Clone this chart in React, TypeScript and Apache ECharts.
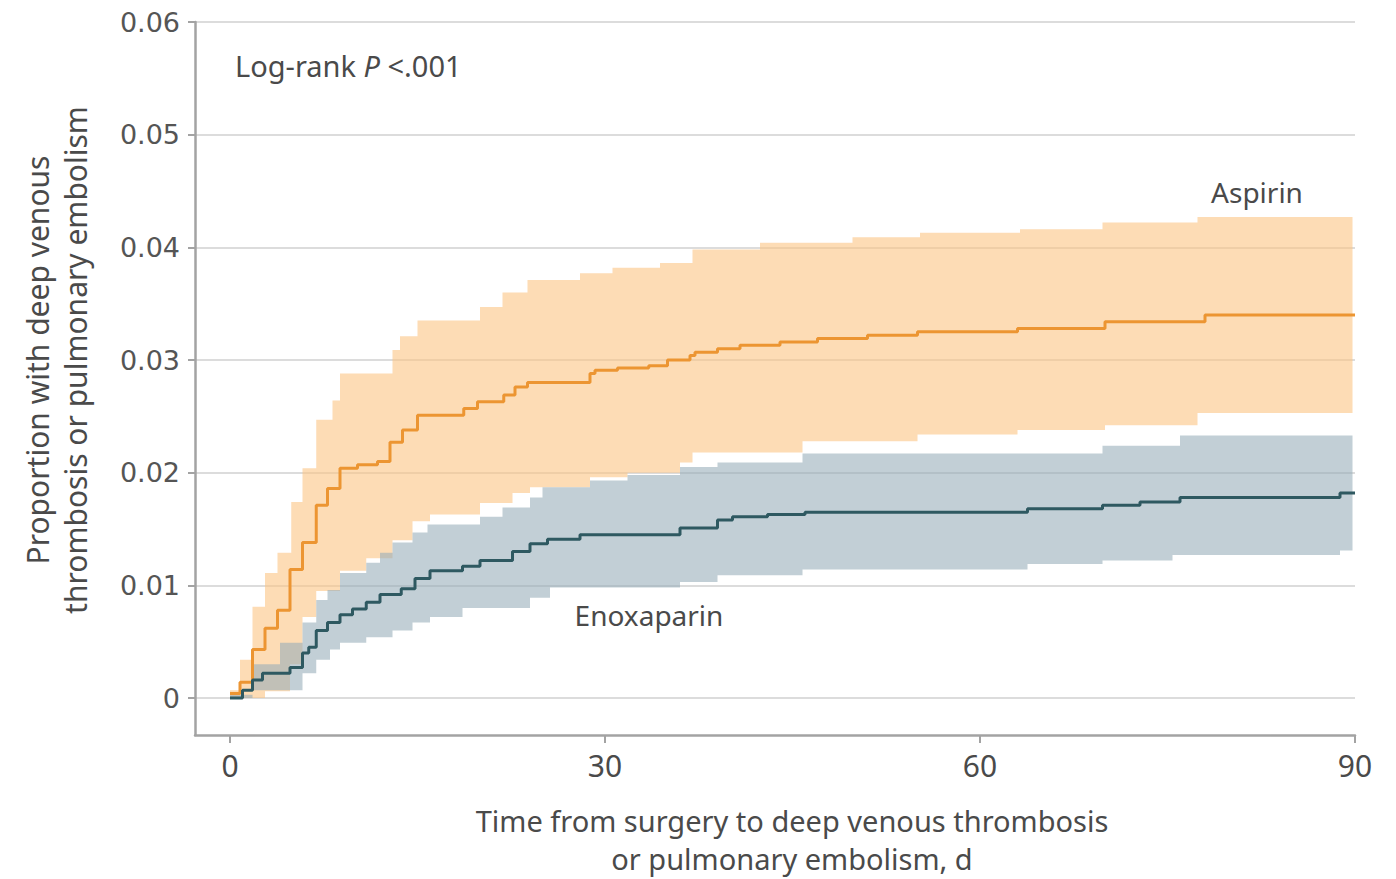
import React, { useEffect, useRef } from "react";
import * as echarts from "echarts";

// Axis ticks
const xTicks = [0, 30, 60, 90];
const yTicks = [0, 0.01, 0.02, 0.03, 0.04, 0.05, 0.06];

// Aspirin cumulative incidence (step points: day, proportion)
const aspirinDays = [0, 0.8, 1.8, 2.8, 3.8, 4.8, 5.8, 6.9, 7.8, 8.8, 10.2, 11.8, 12.8, 13.8, 15.0, 18.7, 19.8, 21.9, 22.8, 23.8, 28.8, 29.2, 31, 33.5, 35, 36.8, 37.2, 39, 40.8, 44, 47, 51, 55, 63, 70, 78, 90];
const aspirinValues = [0.0004, 0.0014, 0.0043, 0.0062, 0.0078, 0.0114, 0.0138, 0.0171, 0.0186, 0.0204, 0.0207, 0.021, 0.0227, 0.0238, 0.0251, 0.0257, 0.0263, 0.0269, 0.0276, 0.028, 0.0288, 0.0291, 0.0293, 0.0295, 0.03, 0.0304, 0.0307, 0.031, 0.0313, 0.0316, 0.0319, 0.0322, 0.0325, 0.0328, 0.0334, 0.034, 0.034];

// Aspirin 95% CI
const aspirinUpperDays = [0, 0.8, 1.8, 2.8, 3.8, 4.9, 5.8, 6.9, 8.2, 8.8, 13, 13.6, 15, 20, 21.8, 23.8, 28, 30.6, 34.4, 37, 42.4, 49.8, 55.2, 63.2, 69.8, 77.4];
const aspirinUpperValues = [0.0007, 0.0034, 0.0081, 0.0111, 0.0129, 0.0174, 0.0204, 0.0247, 0.0264, 0.0288, 0.0309, 0.0321, 0.0335, 0.0347, 0.036, 0.0371, 0.0377, 0.0382, 0.0386, 0.0398, 0.0404, 0.0409, 0.0413, 0.0416, 0.0422, 0.0427];
const aspirinLowerDays = [0, 2.8, 4.8, 5.8, 6.9, 8.8, 10.9, 13, 14.6, 16, 20, 22.6, 24, 28.8, 31.8, 36, 37, 45.8, 55, 63, 70, 77.4];
const aspirinLowerValues = [0, 0.0006, 0.003, 0.0072, 0.0095, 0.0113, 0.0124, 0.014, 0.0157, 0.0163, 0.0173, 0.0182, 0.0187, 0.0196, 0.02, 0.0209, 0.0218, 0.0228, 0.0234, 0.0238, 0.0242, 0.0253];

// Enoxaparin cumulative incidence
const enoxDays = [0, 1.0, 1.8, 2.6, 4.8, 5.8, 6.3, 6.9, 7.8, 8.8, 9.8, 10.9, 12, 13.7, 14.8, 16, 18.6, 20, 22.6, 24, 25.4, 28, 36, 39, 40.2, 43, 46, 63.8, 69.8, 72.8, 76, 88.8, 90];
const enoxValues = [0, 0.0007, 0.0016, 0.0022, 0.0027, 0.004, 0.0045, 0.006, 0.0067, 0.0074, 0.0079, 0.0085, 0.0092, 0.0097, 0.0106, 0.0113, 0.0117, 0.0122, 0.013, 0.0137, 0.0141, 0.0145, 0.0151, 0.0158, 0.0161, 0.0163, 0.0165, 0.0168, 0.0171, 0.0174, 0.0178, 0.0182, 0.0182];

// Enoxaparin 95% CI
const enoxUpperDays = [0, 1.8, 4, 5.8, 6.9, 7.8, 8.8, 10.9, 12, 13, 14.6, 15.8, 20, 21.8, 24, 25, 28.8, 31.8, 36, 39, 45.8, 69.8, 76];
const enoxUpperValues = [0.0003, 0.003, 0.0049, 0.0067, 0.0087, 0.0096, 0.0111, 0.012, 0.0129, 0.0138, 0.0147, 0.0154, 0.0161, 0.0169, 0.0178, 0.0187, 0.0193, 0.0198, 0.0205, 0.0209, 0.0217, 0.0224, 0.0233];
const enoxLowerDays = [0, 1.8, 5.8, 6.9, 8, 8.8, 10.9, 13, 14.6, 16, 18.6, 24, 25.6, 36, 39, 45.8, 63.8, 69.8, 75.4, 88.8];
const enoxLowerValues = [0, 0.0007, 0.0022, 0.0034, 0.0043, 0.0049, 0.0054, 0.006, 0.0067, 0.0072, 0.008, 0.0089, 0.0098, 0.0103, 0.0109, 0.0114, 0.0119, 0.0122, 0.0127, 0.0131];

const BAND_END = 89.8;
const FONT = "'Noto Sans', sans-serif";
const TEXT_COLOR = "#4a4a4a";
const AXIS_COLOR = "#a3a3a3";

function bandSeries(name: string, upD: number[], upV: number[], loD: number[], loV: number[], fill: string) {
  return {
    type: "custom",
    name,
    data: [[0, 0]],
    encode: { x: 0, y: 1 },
    silent: true,
    clip: true,
    renderItem: (_params: any, api: any) => {
      const pts: number[][] = [];
      for (let i = 0; i < upD.length; i++) {
        const x1 = i < upD.length - 1 ? upD[i + 1] : BAND_END;
        pts.push(api.coord([upD[i], upV[i]]), api.coord([x1, upV[i]]));
      }
      for (let i = loD.length - 1; i >= 0; i--) {
        const x1 = i < loD.length - 1 ? loD[i + 1] : BAND_END;
        pts.push(api.coord([x1, loV[i]]), api.coord([loD[i], loV[i]]));
      }
      return { type: "polygon", shape: { points: pts }, style: { fill } };
    },
  };
}

export default function App() {
  const ref = useRef<HTMLDivElement>(null);
  useEffect(() => {
    if (!ref.current) return;
    const chart = echarts.init(ref.current, null, { renderer: "svg" });
    chart.setOption({
      animation: false,
      backgroundColor: "#ffffff",
      grid: { left: 195, right: 41, top: 22, bottom: 144, containLabel: false, outerBoundsMode: "none" },
      xAxis: {
        type: "value",
        min: -2.8,
        max: 90,
        axisLine: { show: true, onZero: false, lineStyle: { color: AXIS_COLOR, width: 2.5 } },
        axisTick: { show: true, customValues: xTicks, length: 8, lineStyle: { color: AXIS_COLOR, width: 2 } },
        axisLabel: { customValues: xTicks, fontSize: 30, color: TEXT_COLOR, margin: 15, fontFamily: FONT },
        splitLine: { show: false },
      },
      yAxis: {
        type: "value",
        min: -0.00328,
        max: 0.06,
        axisLine: { show: true, onZero: false, lineStyle: { color: AXIS_COLOR, width: 2.5 } },
        axisTick: { show: true, customValues: yTicks, length: 7, lineStyle: { color: AXIS_COLOR, width: 2 } },
        axisLabel: {
          customValues: yTicks,
          fontSize: 27,
          color: "#555555",
          margin: 15,
          fontFamily: "'DejaVu Sans', sans-serif",
          formatter: (v: number) => (v === 0 ? "0" : v.toFixed(2)),
        },
        splitLine: { show: true, lineStyle: { color: "#dcdcdc", width: 2 } },
      },
      series: [
        bandSeries("Aspirin 95% CI", aspirinUpperDays, aspirinUpperValues, aspirinLowerDays, aspirinLowerValues, "rgba(252,196,132,0.6)"),
        bandSeries("Enoxaparin 95% CI", enoxUpperDays, enoxUpperValues, enoxLowerDays, enoxLowerValues, "rgba(150,172,184,0.58)"),
        {
          type: "line",
          name: "Aspirin",
          step: "end",
          showSymbol: false,
          symbol: "none",
          data: aspirinDays.map((d, i) => [d, aspirinValues[i]]),
          lineStyle: { color: "#EC9532", width: 3 },
        },
        {
          type: "line",
          name: "Enoxaparin",
          step: "end",
          showSymbol: false,
          symbol: "none",
          data: enoxDays.map((d, i) => [d, enoxValues[i]]),
          lineStyle: { color: "#2E5961", width: 3 },
        },
      ],
      graphic: [
        {
          type: "text",
          left: 235,
          top: 51,
          style: {
            text: "{a|Log-rank }{p|P}{a| <.001}",
            rich: {
              a: { fontSize: 29, fontFamily: FONT, fill: TEXT_COLOR },
              p: { fontSize: 29, fontFamily: FONT, fontStyle: "italic", fill: TEXT_COLOR },
            },
          },
        },
        {
          type: "text",
          x: 1257,
          y: 192,
          style: { text: "Aspirin", fontSize: 28, fontFamily: FONT, fill: TEXT_COLOR, align: "center", verticalAlign: "middle" },
        },
        {
          type: "text",
          x: 649,
          y: 615,
          style: { text: "Enoxaparin", fontSize: 28, fontFamily: FONT, fill: TEXT_COLOR, align: "center", verticalAlign: "middle" },
        },
        {
          type: "text",
          x: 792,
          y: 839,
          style: {
            text: "Time from surgery to deep venous thrombosis\nor pulmonary embolism, d",
            fontSize: 29,
            lineHeight: 38,
            fontFamily: FONT,
            fill: TEXT_COLOR,
            align: "center",
            verticalAlign: "middle",
          },
        },
        {
          type: "text",
          x: 56,
          y: 360,
          rotation: Math.PI / 2,
          style: {
            text: "Proportion with deep venous\nthrombosis or pulmonary embolism",
            fontSize: 30,
            lineHeight: 38,
            fontFamily: FONT,
            fill: TEXT_COLOR,
            align: "center",
            verticalAlign: "middle",
          },
        },
      ],
    });
    return () => chart.dispose();
  }, []);
  return <div ref={ref} style={{ position: "fixed", left: 0, top: 0, width: 1396, height: 879 }} />;
}
